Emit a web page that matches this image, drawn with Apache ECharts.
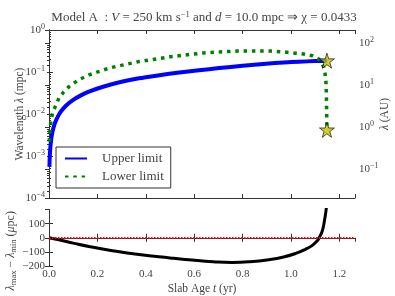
<!DOCTYPE html>
<html>
<head>
<meta charset="utf-8">
<script src="https://cdn.jsdelivr.net/npm/echarts@6/dist/echarts.min.js"></script>
<style>
html,body{margin:0;padding:0;background:#fff;}
#chart{width:395px;height:296px;}
</style>
</head>
<body>
<div id="chart"></div>
<script>
// ---- data ----
var tUpper = [0.0017, 0.003, 0.005, 0.008, 0.012, 0.017, 0.025, 0.037, 0.05, 0.072, 0.1, 0.13, 0.165, 0.22, 0.3, 0.372, 0.45, 0.53, 0.62, 0.703, 0.8, 0.897, 0.97, 1.034, 1.1, 1.149];
var upper  = [0.00055, 0.00092, 0.00145, 0.0022, 0.0032, 0.0044, 0.0062, 0.0088, 0.0116, 0.0161, 0.0216, 0.0274, 0.034, 0.044, 0.0585, 0.071, 0.083, 0.096, 0.110, 0.124, 0.141, 0.158, 0.168, 0.176, 0.182, 0.186];

var tLower = [0.001, 0.003, 0.005, 0.01, 0.017, 0.03, 0.041, 0.06, 0.083, 0.12, 0.165, 0.25, 0.372, 0.5, 0.64, 0.703, 0.78, 0.85, 0.917, 0.97, 1.02, 1.052, 1.087, 1.117, 1.135, 1.141, 1.145, 1.147, 1.148, 1.149];
var lower  = [0.0022, 0.0033, 0.005, 0.008, 0.0115, 0.017, 0.024, 0.033, 0.045, 0.064, 0.085, 0.125, 0.177, 0.23, 0.285, 0.30, 0.315, 0.318, 0.315, 0.30, 0.28, 0.268, 0.245, 0.20, 0.134, 0.093, 0.056, 0.025, 0.01, 0.0042];

var starT = [1.149, 1.149];
var starLambda = [0.186, 0.0042];

var tDiff = [0, 0.05, 0.1, 0.165, 0.25, 0.372, 0.5, 0.59, 0.68, 0.757, 0.83, 0.91, 0.97, 1.02, 1.06, 1.09, 1.11, 1.117, 1.13, 1.138, 1.145, 1.149];
var diff  = [0, -18, -38, -62, -88, -119, -143, -158, -170, -175, -170, -155, -136, -111, -82, -52, -20, 0, 50, 114, 190, 260];

var MPC_TO_AU = 206.265;

function zip(a, b) { return a.map(function (v, i) { return [v, b[i]]; }); }

var FONT = 'Liberation Serif';
var TXT = '#444';
var LINE = '#333';

function supFmt(v) {
  var e = Math.round(Math.log(v) / Math.LN10);
  return '10{sup|' + String(e).replace('-', '\u2212') + '}';
}
var supRich = {
  sup: { fontSize: 8, fontFamily: FONT, color: TXT, padding: [0, 0, 7, 0] }
};

var chart = echarts.init(document.getElementById('chart'), null, { renderer: 'canvas' });

var starPath = 'path://M50,2 L61,36 L97,36 L68,57 L79,92 L50,71 L21,92 L32,57 L3,36 L39,36 Z';

function xAx(grid, pos, labels) {
  var a = { gridIndex: grid, type: 'value', min: 0, max: 1.265, interval: 0.2, position: pos,
    axisLine: { lineStyle: { color: LINE } },
    axisTick: { inside: true, length: 4, lineStyle: { color: LINE } },
    axisLabel: { show: false }, splitLine: { show: false } };
  if (labels) {
    a.axisLabel = { fontFamily: FONT, fontSize: 11, color: TXT, margin: 3, showMaxLabel: false,
      formatter: function (v) { return v.toFixed(1); } };
    a.name = 'Slab Age {i|t} (yr)';
    a.nameLocation = 'middle';
    a.nameGap = 17;
    a.nameTextStyle = { fontFamily: FONT, fontSize: 11.5, color: TXT,
      rich: { i: { fontFamily: FONT, fontSize: 11.5, fontStyle: 'italic', color: TXT } } };
  }
  return a;
}

var option = {
  animation: false,
  title: {
    text: 'Model A  : {i|V} = 250 km s{sup|\u22121} and {i|d} = 10.0 mpc \u21d2 \u03c7 = 0.0433',
    left: 199,
    textAlign: 'center',
    top: 5,
    textStyle: {
      fontFamily: FONT, fontSize: 13, color: TXT, fontWeight: 'normal',
      rich: {
        i: { fontFamily: FONT, fontSize: 13, fontStyle: 'italic', color: TXT },
        sup: { fontFamily: FONT, fontSize: 8.5, color: TXT, padding: [0, 0, 7, 0] }
      }
    }
  },
  legend: {
    data: ['Upper limit', 'Lower limit'],
    orient: 'vertical',
    left: 56, top: 147,
    padding: [5, 7, 5, 8],
    itemWidth: 22, itemHeight: 14, itemGap: 5,
    borderColor: LINE, borderWidth: 1, borderRadius: 0,
    backgroundColor: '#fff',
    itemStyle: { opacity: 0 },
    textStyle: { fontFamily: FONT, fontSize: 13, color: TXT, padding: [0, 0, 0, 10] }
  },
  grid: [
    { left: 49, top: 30, width: 306, height: 168, outerBoundsMode: 'none', containLabel: false },
    { left: 49, top: 209.5, width: 306, height: 56.5, outerBoundsMode: 'none', containLabel: false }
  ],
  xAxis: [ xAx(0, 'bottom', false), xAx(0, 'top', false), xAx(1, 'bottom', true), xAx(1, 'top', false) ],
  yAxis: [
    { gridIndex: 0, type: 'log', logBase: 10, min: 1e-4, max: 1, position: 'left',
      axisLine: { show: true, lineStyle: { color: LINE } },
      axisTick: { inside: true, length: 4, lineStyle: { color: LINE } },
      minorTick: { show: true, splitNumber: 9, length: 2, lineStyle: { color: LINE } },
      axisLabel: { fontFamily: FONT, fontSize: 11, color: TXT, margin: 4, formatter: supFmt, rich: supRich },
      splitLine: { show: false },
      name: 'Wavelength {i|\u03bb} (mpc)', nameLocation: 'middle', nameGap: 23, nameRotate: 90,
      nameMoveOverlap: false,
      nameTextStyle: { fontFamily: FONT, fontSize: 11.5, color: TXT,
        rich: { i: { fontFamily: FONT, fontSize: 11.5, fontStyle: 'italic', color: TXT } } } },
    { gridIndex: 0, type: 'log', logBase: 10, min: 1e-4 * MPC_TO_AU, max: 1 * MPC_TO_AU, position: 'right',
      axisLine: { show: true, lineStyle: { color: LINE } },
      axisTick: { inside: true, length: 4, lineStyle: { color: LINE } },
      minorTick: { show: true, splitNumber: 9, length: 2, lineStyle: { color: LINE } },
      axisLabel: { fontFamily: FONT, fontSize: 11, color: TXT, margin: 4, formatter: supFmt, rich: supRich,
        showMinLabel: false, showMaxLabel: false },
      splitLine: { show: false },
      name: '{i|\u03bb} (AU)', nameLocation: 'middle', nameGap: 24, nameRotate: 90,
      nameMoveOverlap: false,
      nameTextStyle: { fontFamily: FONT, fontSize: 11.5, color: TXT,
        rich: { i: { fontFamily: FONT, fontSize: 11.5, fontStyle: 'italic', color: TXT } } } },
    { gridIndex: 1, type: 'value', min: -200, max: 200, interval: 100, position: 'left',
      axisLine: { show: true, lineStyle: { color: LINE } },
      axisTick: { inside: true, length: 4, lineStyle: { color: LINE } },
      axisLabel: { fontFamily: FONT, fontSize: 11, color: TXT, margin: 4, showMaxLabel: false,
        formatter: function (v) { return String(v).replace('-', '\u2212'); } },
      splitLine: { show: false },
      name: '{i|\u03bb}{sub|max} \u2212 {i|\u03bb}{sub|min} ({i|\u03bc}pc)', nameLocation: 'middle', nameGap: 31, nameRotate: 90,
      nameMoveOverlap: false,
      nameTextStyle: { fontFamily: FONT, fontSize: 12, color: TXT, padding: [0, 26, 0, 0],
        rich: {
          i: { fontFamily: FONT, fontSize: 12, fontStyle: 'italic', color: TXT },
          sub: { fontFamily: FONT, fontSize: 8.5, color: TXT, padding: [5, 0, 0, 0] }
        } } },
    { gridIndex: 1, type: 'value', min: -200, max: 200, interval: 100, position: 'right',
      axisLine: { show: true, lineStyle: { color: LINE } },
      axisTick: { inside: true, length: 4, lineStyle: { color: LINE } },
      axisLabel: { show: false }, splitLine: { show: false } }
  ],
  series: [
    { name: 'Upper limit', type: 'line', xAxisIndex: 0, yAxisIndex: 0,
      data: zip(tUpper, upper), symbol: 'none', smooth: 0.15,
      itemStyle: { color: '#0000ff' },
      lineStyle: { color: '#0000ff', width: 4 }, z: 3 },
    { name: 'Lower limit', type: 'line', xAxisIndex: 0, yAxisIndex: 0,
      data: zip(tLower, lower), symbol: 'none', smooth: false,
      itemStyle: { color: '#008000' },
      lineStyle: { color: '#008000', width: 3.5, type: [3.5, 4.8], cap: 'butt' }, z: 4 },
    { name: 'limits', type: 'scatter', xAxisIndex: 0, yAxisIndex: 0,
      data: zip(starT, starLambda), symbol: starPath, symbolSize: 15,
      itemStyle: { color: '#bfbf00', borderColor: '#000', borderWidth: 0.8 }, z: 5 },
    { name: 'diff', type: 'line', xAxisIndex: 2, yAxisIndex: 2,
      data: zip(tDiff, diff), symbol: 'none', smooth: true, clip: true,
      lineStyle: { color: '#000', width: 3 }, z: 3,
      markLine: { silent: true, symbol: 'none', label: { show: false },
        lineStyle: { color: '#ff0000', width: 2, type: [1.5, 1.5] },
        data: [{ yAxis: 0 }] } }
  ]
};
chart.setOption(option);
</script>
</body>
</html>
